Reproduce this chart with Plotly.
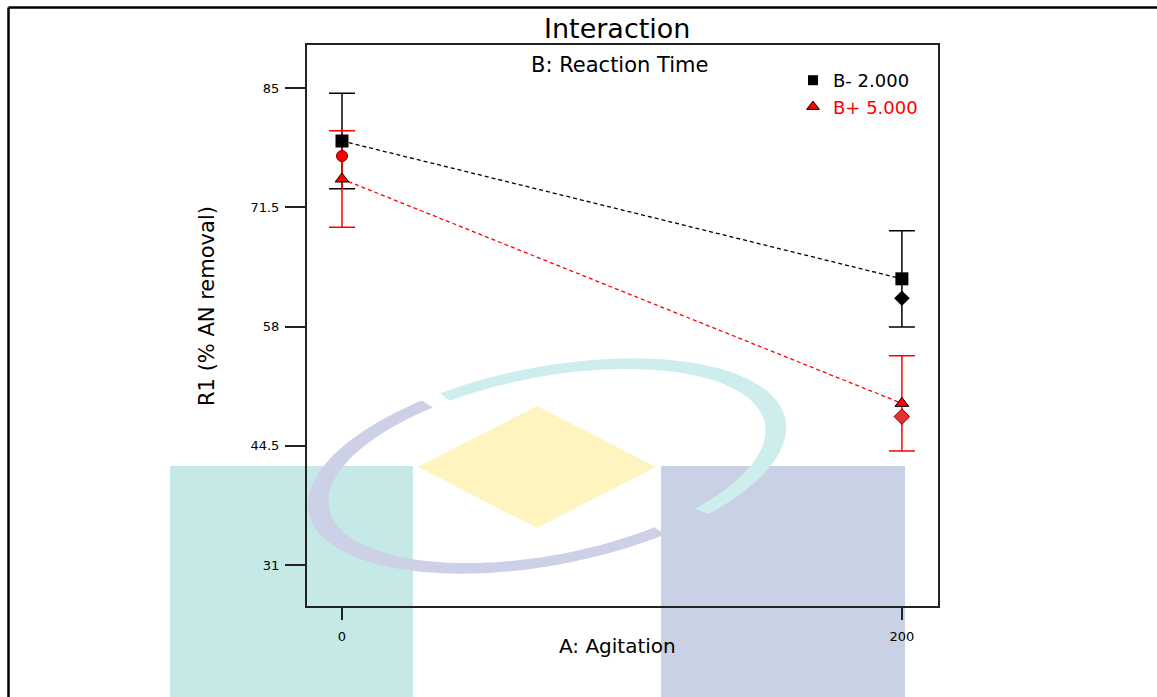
import numpy as np
import plotly.graph_objects as go

# ---------------- data ----------------
agitation = [0, 200]
b_minus_pred = [79.0, 63.4]      # B- 2.000 predicted
b_plus_pred = [74.7, 49.3]       # B+ 5.000 predicted
b_minus_lsd = [5.4, 5.45]        # half LSD bars
b_plus_lsd = [5.45, 5.4]
design_x_red = [0, 200]
design_y_red = [77.3, 47.8]
design_x_black = [200]
design_y_black = [61.2]
y_ticks = [31, 44.5, 58, 71.5, 85]
x_ticks = [0, 200]
x_tick_text = ["0", "200"]

# ---------------- geometry helpers ----------------
L, R, T, B = 307, 938, 45, 606
W, H = R - L, B - T


def px(x):
    return (x - L) / W


def py(y):
    return (B - y) / H


FONT = "DejaVu Sans, Verdana, sans-serif"

fig = go.Figure()

# LSD error bars
fig.add_trace(go.Scatter(x=agitation, y=b_minus_pred, mode="markers",
                         marker=dict(size=1, opacity=0),
                         error_y=dict(type="data", array=b_minus_lsd, visible=True,
                                      color="black", thickness=1.5, width=13),
                         showlegend=False, hoverinfo="skip"))
fig.add_trace(go.Scatter(x=agitation, y=b_plus_pred, mode="markers",
                         marker=dict(size=1, opacity=0),
                         error_y=dict(type="data", array=b_plus_lsd, visible=True,
                                      color="red", thickness=1.5, width=13),
                         showlegend=False, hoverinfo="skip"))

# dashed interaction lines
fig.add_trace(go.Scatter(x=agitation, y=b_minus_pred, mode="lines",
                         line=dict(color="black", width=1.3, dash="4px,3px"),
                         showlegend=False))
fig.add_trace(go.Scatter(x=agitation, y=b_plus_pred, mode="lines",
                         line=dict(color="red", width=1.3, dash="4px,3px"),
                         showlegend=False))

# design points
fig.add_trace(go.Scatter(x=design_x_black, y=design_y_black, mode="markers",
                         marker=dict(symbol="diamond", size=12, color="black"),
                         showlegend=False))
fig.add_trace(go.Scatter(x=design_x_red[:1], y=design_y_red[:1], mode="markers",
                         marker=dict(symbol="circle", size=11, color="red",
                                     line=dict(color="#7a0000", width=1)),
                         showlegend=False))
fig.add_trace(go.Scatter(x=design_x_red[1:], y=design_y_red[1:], mode="markers",
                         marker=dict(symbol="diamond", size=12, color="#e83030",
                                     line=dict(color="#7a0000", width=1)),
                         showlegend=False))

# predicted markers
fig.add_trace(go.Scatter(x=agitation, y=b_minus_pred, mode="markers",
                         marker=dict(symbol="square", size=13, color="black"),
                         showlegend=False))
fig.add_trace(go.Scatter(x=agitation, y=b_plus_pred, mode="markers",
                         marker=dict(symbol="triangle-up", size=12, color="red",
                                     line=dict(color="black", width=1)),
                         showlegend=False))

# legend-only entries
fig.add_trace(go.Scatter(x=[None], y=[None], mode="markers", name="B- 2.000",
                         marker=dict(symbol="square", size=10, color="black")))
fig.add_trace(go.Scatter(x=[None], y=[None], mode="markers",
                         name="<span style='color:red'>B+ 5.000</span>",
                         marker=dict(symbol="triangle-up", size=11, color="red",
                                     line=dict(color="black", width=1))))

# ---------------- watermark shapes ----------------
shapes = []
shapes.append(dict(type="rect", xref="paper", yref="paper", layer="below",
                   x0=px(170), x1=px(413), y0=py(697), y1=py(466),
                   fillcolor="#c4e9e6", line=dict(width=0)))
shapes.append(dict(type="rect", xref="paper", yref="paper", layer="below",
                   x0=px(661), x1=px(905), y0=py(697), y1=py(466),
                   fillcolor="#c9d1e4", line=dict(width=0)))
diamond = [(418, 467), (537, 406), (656, 467), (537, 528)]
shapes.append(dict(type="path", xref="paper", yref="paper", layer="below",
                   path="M " + " L ".join(f"{px(a):.5f},{py(b):.5f}" for a, b in diamond) + " Z",
                   fillcolor="#fdf4c0", line=dict(width=0)))


def ring_path(t1, t2, cx=547, cy=466, ao=243, bo=99, ai=222, bi=89, rot=-11):
    th = np.radians(rot)
    ts = np.radians(np.linspace(t1, t2, 80))
    pts = []
    for t in ts:
        X = cx + ao * np.cos(t) * np.cos(th) - bo * np.sin(t) * np.sin(th)
        Y = cy + ao * np.cos(t) * np.sin(th) + bo * np.sin(t) * np.cos(th)
        pts.append((X, Y))
    for t in ts[::-1]:
        X = cx + ai * np.cos(t) * np.cos(th) - bi * np.sin(t) * np.sin(th)
        Y = cy + ai * np.cos(t) * np.sin(th) + bi * np.sin(t) * np.cos(th)
        pts.append((X, Y))
    return "M " + " L ".join(f"{px(a):.5f},{py(b):.5f}" for a, b in pts) + " Z"


shapes.append(dict(type="path", xref="paper", yref="paper", layer="below",
                   path=ring_path(65, 243), fillcolor="#cdd1e8", line=dict(width=0)))
shapes.append(dict(type="path", xref="paper", yref="paper", layer="below",
                   path=ring_path(248, 412), fillcolor="#cdeeed", line=dict(width=0)))

# outer border (top and left)
shapes.append(dict(type="line", xref="paper", yref="paper", layer="above",
                   x0=px(8.5), x1=px(1157), y0=py(7.5), y1=py(7.5),
                   line=dict(color="black", width=2.5)))
shapes.append(dict(type="line", xref="paper", yref="paper", layer="above",
                   x0=px(8.5), x1=px(8.5), y0=py(7.5), y1=py(697),
                   line=dict(color="black", width=2.5)))

# ---------------- texts ----------------
annotations = [
    dict(text="Interaction", x=px(617), y=py(28), xref="paper", yref="paper",
         showarrow=False, xanchor="center", yanchor="middle",
         font=dict(family=FONT, size=27, color="black")),
    dict(text="B: Reaction Time", x=px(619), y=py(65), xref="paper", yref="paper",
         showarrow=False, xanchor="center", yanchor="middle",
         font=dict(family=FONT, size=21, color="black")),
    dict(text="A: Agitation", x=px(617), y=py(646), xref="paper", yref="paper",
         showarrow=False, xanchor="center", yanchor="middle",
         font=dict(family=FONT, size=20, color="black")),
    dict(text="R1 (% AN removal)", x=px(207), y=py(306), xref="paper", yref="paper",
         showarrow=False, xanchor="center", yanchor="middle", textangle=-90,
         font=dict(family=FONT, size=21, color="black")),
]

fig.update_layout(
    width=1157, height=697,
    margin=dict(l=L, r=1157 - R, t=T, b=697 - B, pad=0),
    paper_bgcolor="white", plot_bgcolor="rgba(0,0,0,0)",
    shapes=shapes, annotations=annotations,
    legend=dict(x=px(793), y=py(62), xref="paper", yref="paper",
                xanchor="left", yanchor="top", bgcolor="rgba(0,0,0,0)",
                font=dict(family=FONT, size=18, color="black"),
                itemsizing="trace", tracegroupgap=0),
    xaxis=dict(range=[-12.5, 212.9], tickvals=x_ticks, ticktext=x_tick_text,
               showgrid=False, zeroline=False, showline=True, mirror=True,
               linecolor="#222", linewidth=2, ticks="outside", ticklen=12,
               tickwidth=2, tickcolor="#222", ticklabelstandoff=5,
               tickfont=dict(family=FONT, size=13, color="black")),
    yaxis=dict(range=[26.36, 89.87], tickvals=y_ticks,
               ticktext=[f"{v:g}" for v in y_ticks],
               showgrid=False, zeroline=False, showline=True, mirror=True,
               linecolor="#222", linewidth=2, ticks="outside", ticklen=20,
               tickwidth=2, tickcolor="#222", ticklabelstandoff=3,
               tickfont=dict(family=FONT, size=13, color="black")),
)

fig.write_html("out.html")
